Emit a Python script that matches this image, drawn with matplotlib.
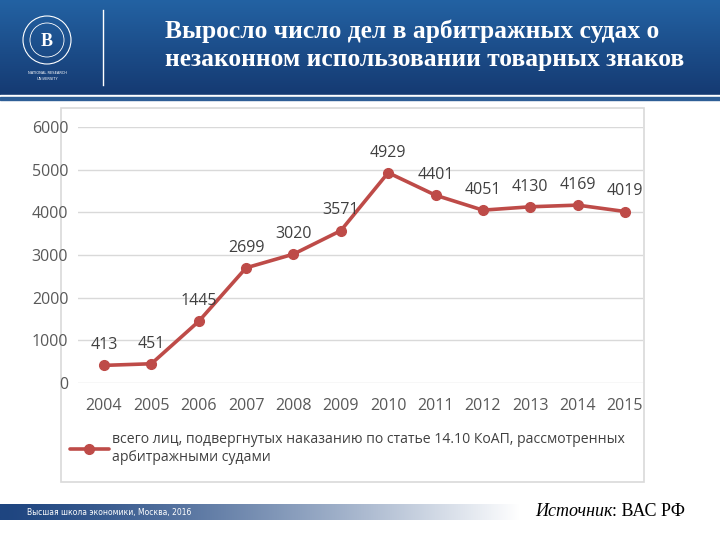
import numpy as np
import matplotlib
matplotlib.use("Agg")
import matplotlib.pyplot as plt
from matplotlib.patches import Rectangle, Circle

years = [2004, 2005, 2006, 2007, 2008, 2009, 2010, 2011, 2012, 2013, 2014, 2015]
values = [413, 451, 1445, 2699, 3020, 3571, 4929, 4401, 4051, 4130, 4169, 4019]
yticks = [0, 1000, 2000, 3000, 4000, 5000, 6000]
title = "Выросло число дел в арбитражных судах о\nнезаконном использовании товарных знаков"
legend_label = "всего лиц, подвергнутых наказанию по статье 14.10 КоАП, рассмотренных\nарбитражными судами"
footer = "Высшая школа экономики, Москва, 2016"

fig = plt.figure(figsize=(7.2, 5.4), dpi=100)
bg = fig.add_axes([0, 0, 1, 1])
bg.set_xlim(0, 720)
bg.set_ylim(540, 0)
bg.axis("off")

# header gradient
grad = np.linspace(0, 1, 100).reshape(-1, 1)
top = np.array([0x23, 0x62, 0xA3]) / 255
bot = np.array([0x15, 0x3A, 0x72]) / 255
img = top + (bot - top) * grad[..., None]
img = img.reshape(100, 1, 3)
bg.imshow(img, extent=(0, 720, 95, 0), aspect="auto", zorder=0)
bg.add_patch(Rectangle((0, 95), 720, 2, color="white", zorder=1))
bg.add_patch(Rectangle((0, 97), 720, 3, color="#2E5E96", zorder=1))
bg.plot([103, 103], [10, 85], color="white", lw=1, zorder=2)

# logo
bg.add_patch(Circle((47, 40), 24, fill=False, ec="white", lw=0.8, zorder=2))
bg.add_patch(Circle((47, 40), 17, fill=False, ec="white", lw=0.6, zorder=2))
bg.text(47, 41, "В", color="white", fontsize=13, ha="center", va="center",
        family="Liberation Serif", fontweight="bold", zorder=3)
bg.text(47, 73, "NATIONAL RESEARCH", color="white", fontsize=2.6, ha="center", va="center", zorder=3)
bg.text(47, 79, "UNIVERSITY", color="white", fontsize=2.6, ha="center", va="center", zorder=3)

# title
bg.text(165, 45, title, color="white", fontsize=18.4, family="Liberation Serif",
        fontweight="bold", ha="left", va="center", linespacing=1.3, zorder=3)

# chart frame
bg.add_patch(Rectangle((61, 108), 583, 374, fill=False, ec="#D9D9D9", lw=1.2, zorder=1))

# footer gradient bar
fgrad = np.linspace(0, 1, 300).reshape(1, -1)
c0 = np.array([0x1E, 0x45, 0x80]) / 255
c1 = np.array([1.0, 1.0, 1.0])
fimg = c0 + (c1 - c0) * (fgrad[..., None] ** 1.3)
bg.imshow(fimg, extent=(0, 520, 520, 504), aspect="auto", zorder=1)
bg.text(27, 512, footer, color="white", fontsize=5.5, ha="left", va="center", zorder=3)
t1 = bg.text(535, 511, "Источник", color="black", fontsize=13, family="Liberation Serif",
             style="italic", ha="left", va="center", zorder=3)
bg.annotate(": ВАС РФ", xy=(1.0, 0.5), xycoords=t1, color="black", fontsize=13,
            family="Liberation Serif", ha="left", va="center", zorder=3)

# chart
left, right = 78, 643
ytop, ybot = 127, 383
ax = fig.add_axes([left / 720, 1 - ybot / 540, (right - left) / 720, (ybot - ytop) / 540])
ax.patch.set_alpha(0)
per = (625 - 104) / 11
ax.set_xlim(2004 - (104 - left) / per, 2015 + (right - 625) / per)
ax.set_ylim(0, 6000)
red = "#BE4B48"
ax.plot(years, values, color=red, lw=2.6, marker="o", ms=7, zorder=3,
        solid_capstyle="round", label=legend_label)
ax.set_yticks(yticks)
ax.set_yticklabels([str(v) for v in yticks])
ax.set_xticks(years)
ax.set_xticklabels([str(y) for y in years])
ax.grid(axis="y", color="#D9D9D9", lw=1)
ax.set_axisbelow(True)
for s in ax.spines.values():
    s.set_visible(False)
ax.tick_params(length=0, labelsize=11.5, colors="#595959")
ax.tick_params(axis="y", pad=7)
ax.tick_params(axis="x", pad=11)
for lab in ax.get_xticklabels() + ax.get_yticklabels():
    lab.set_family("Open Sans")
for x, v in zip(years, values):
    ax.annotate(str(v), (x, v), xytext=(0, 14.5), textcoords="offset points",
                ha="center", va="center", fontsize=11.5, color="#404040", family="Open Sans")

leg = fig.legend(loc="upper left", bbox_to_anchor=(64 / 720, 1 - 426 / 540), frameon=False,
                 handlelength=2.8, handletextpad=0.2, borderaxespad=0,
                 prop={"family": "Open Sans", "size": 10.1})
for t in leg.get_texts():
    t.set_color("#404040")
    t.set_linespacing(1.3)

fig.savefig("out.png", dpi=100)
